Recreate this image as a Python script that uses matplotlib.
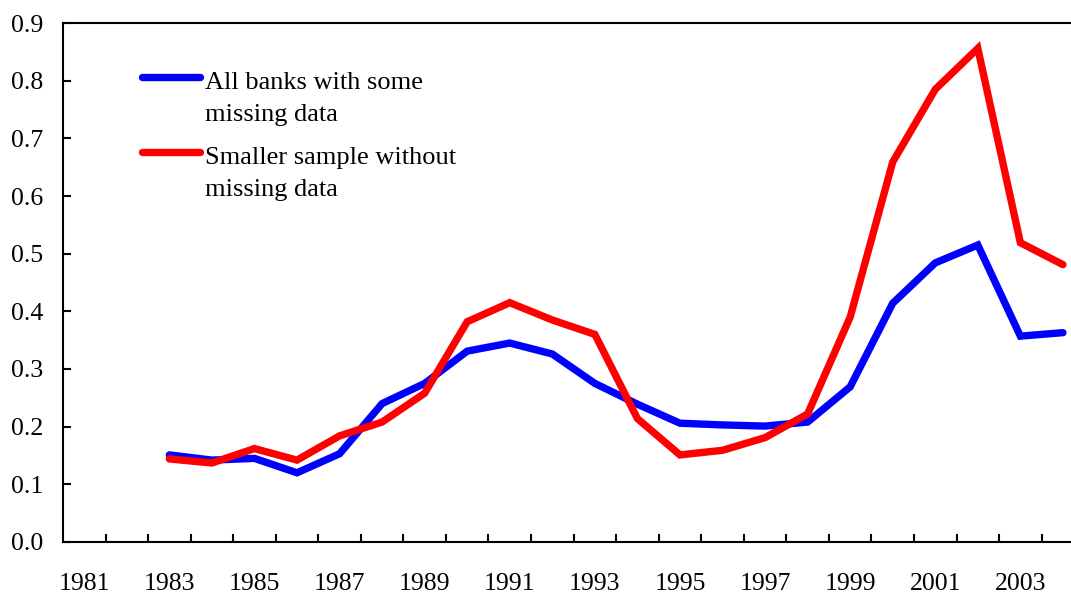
import matplotlib
matplotlib.use("Agg")
import matplotlib.pyplot as plt
import numpy as np

plt.rcParams["font.family"] = ["Liberation Serif", "DejaVu Serif"]

years = list(range(1981, 2005))
data_years = list(range(1983, 2005))

# all banks with some missing data
all_banks = [0.151, 0.142, 0.145, 0.120, 0.153, 0.240, 0.275, 0.331, 0.345,
             0.326, 0.275, 0.239, 0.206, 0.203, 0.201, 0.208, 0.269, 0.414,
             0.484, 0.515, 0.357, 0.363]
# smaller sample without missing data
smaller = [0.144, 0.137, 0.162, 0.142, 0.184, 0.208, 0.258, 0.382, 0.415,
           0.385, 0.360, 0.214, 0.151, 0.159, 0.181, 0.222, 0.390, 0.659,
           0.785, 0.856, 0.519, 0.481]

label_all = "All banks with some\nmissing data"
label_small = "Smaller sample without\nmissing data"

fs = 18.5

fig = plt.figure(figsize=(10.71, 5.95), dpi=100)
ax = fig.add_axes([0.0588, 0.0891, 0.9412, 0.8722])

x = np.array([years.index(y) for y in data_years])
ax.plot(x, all_banks, color="#0000ff", lw=5.3, solid_capstyle="round",
        solid_joinstyle="miter", label=label_all)
ax.plot(x, smaller, color="#ff0000", lw=5.3, solid_capstyle="round",
        solid_joinstyle="miter", label=label_small)

ax.set_ylim(0, 0.9)
ax.set_xlim(-0.5, 23.19)
ax.set_yticks(np.arange(0, 0.91, 0.1))
ax.set_yticklabels(["%.1f" % v for v in np.arange(0, 0.91, 0.1)])

# ticks between categories, labels on odd years
ax.set_xticks(np.arange(0.5, 23.5, 1.0))
ax.set_xticklabels([])
odd = [i for i, y in enumerate(years) if y % 2 == 1]
ax.set_xticks(odd, minor=True)
ax.set_xticklabels([str(years[i]) for i in odd], minor=True)

ax.tick_params(axis="x", which="major", direction="in", length=6, width=1.5)
ax.tick_params(axis="x", which="minor", length=0, pad=22, labelsize=fs)
ax.tick_params(axis="y", direction="in", length=6, width=1.5, pad=14,
               labelsize=fs)

for s in ["left", "bottom", "top"]:
    ax.spines[s].set_linewidth(1.5)
ax.spines["right"].set_visible(False)

leg = ax.legend(loc="upper left", bbox_to_anchor=(0.078, 0.905), frameon=False,
                fontsize=19, handlelength=2.2, handletextpad=0.2,
                labelspacing=0.82, borderpad=0, borderaxespad=0)
for t in leg.get_texts():
    t.set_linespacing(1.55)
# put the handle next to the first line of each label
for h in leg.get_lines():
    h.set_ydata(np.asarray(h.get_ydata()) + 15.5)

fig.savefig("out.png", dpi=100)
